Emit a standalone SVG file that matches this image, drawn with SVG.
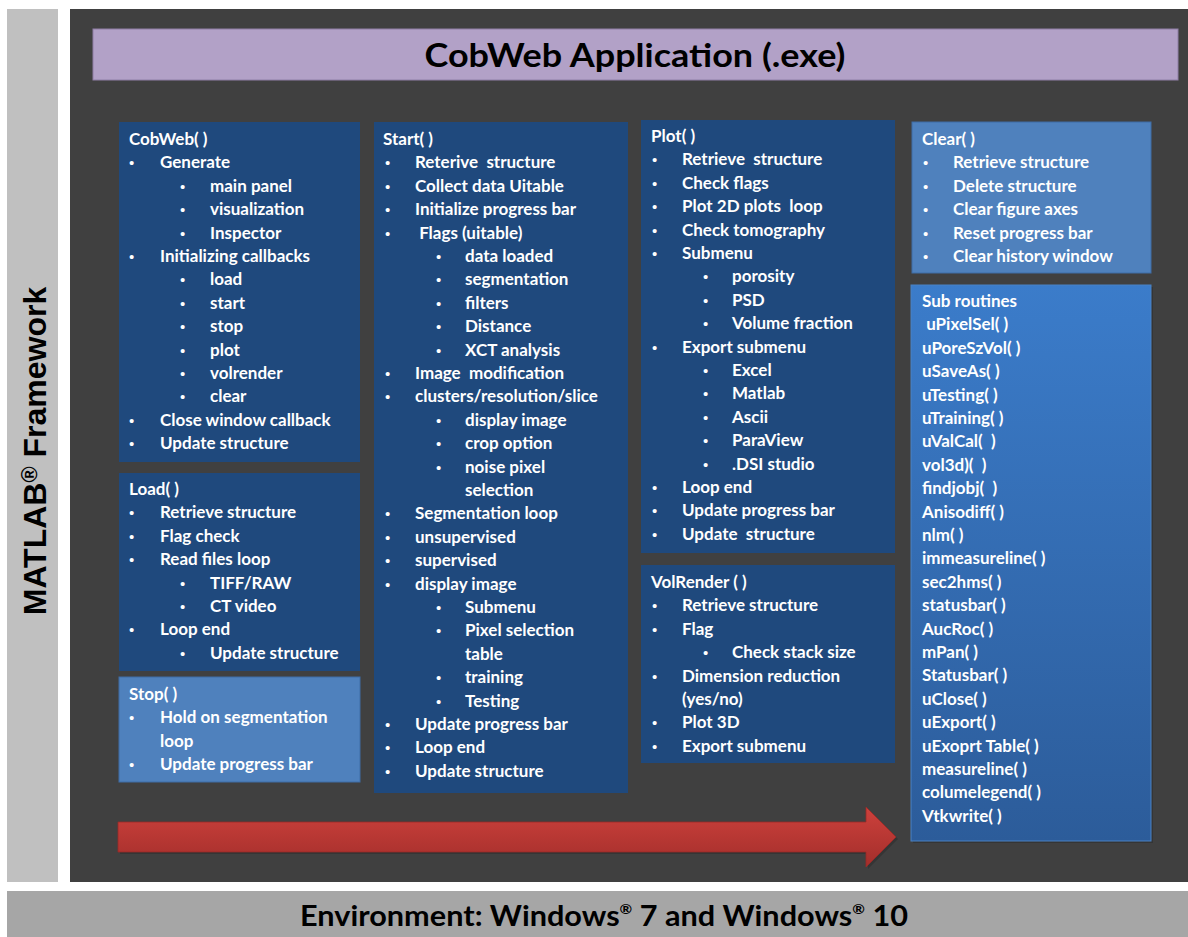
<svg xmlns="http://www.w3.org/2000/svg" width="1188" height="937" viewBox="0 0 1188 937" xml:space="preserve">
<defs>
<style>
.t{font-family:Lato,"Open Sans","Liberation Sans",sans-serif;font-weight:700;font-size:17px;fill:#ffffff;white-space:pre}
.b{font-family:"Liberation Sans",Arial,sans-serif;font-weight:400;font-size:15px;fill:#ffffff}
.dk{fill:#1f497d}
.lt{fill:#4f81bd;stroke:#3e6da6;stroke-width:1}
</style>
<linearGradient id="gSub" x1="0" y1="0" x2="0" y2="1">
<stop offset="0" stop-color="#3b7cca"/>
<stop offset="1" stop-color="#2c5c9a"/>
</linearGradient>
<linearGradient id="gArrow" x1="0" y1="0" x2="0" y2="1">
<stop offset="0" stop-color="#cd413c"/>
<stop offset="1" stop-color="#a32e2b"/>
</linearGradient>
</defs>
<rect x="0" y="0" width="1188" height="937" fill="#ffffff"/>
<g id="matlab">
<rect x="7" y="9" width="51" height="873" fill="#c0c0c0"/>
<text transform="translate(46,451) rotate(-90)" text-anchor="middle" font-family="'Liberation Sans',Arial,sans-serif" font-weight="700" font-size="32" fill="#000">MATLAB<tspan font-size="22" dy="-9">®</tspan><tspan dy="9"> Framework</tspan></text>
</g>
<rect x="70" y="9" width="1118" height="873" fill="#404040"/>
<g id="environment">
<rect x="7" y="891" width="1181" height="46" fill="#a6a6a6"/>
<text x="604" y="926" text-anchor="middle" font-family="Lato,'Liberation Sans',sans-serif" font-weight="700" font-size="28" fill="#000" textLength="608" lengthAdjust="spacingAndGlyphs">Environment: Windows<tspan font-size="14" dy="-12">®</tspan><tspan dy="12"> 7 and Windows</tspan><tspan font-size="14" dy="-12">®</tspan><tspan dy="12"> 10</tspan></text>
</g>
<g id="title">
<rect x="93" y="29" width="1085" height="51" fill="#b2a1c7" stroke="#8f7fa6" stroke-width="1"/>
<text x="635" y="67" text-anchor="middle" font-family="Lato,'Liberation Sans',sans-serif" font-weight="700" font-size="32" fill="#000" textLength="421" lengthAdjust="spacingAndGlyphs">CobWeb Application (.exe)</text>
</g>
<g id="connectors">
<path d="M120,824 H868 V809 L898,839 L868,869 V854 H120 Z" fill="#2a2a2a" opacity="0.5"/>
<path d="M118,822 H866 V807 L896,837 L866,867 V852 H118 Z" fill="url(#gArrow)" stroke="#9a2a27" stroke-width="0.8"/>
</g>
<g id="cobweb">
<rect class="dk" x="119" y="122" width="241" height="340"/>
<text class="t" x="129" y="145">CobWeb( )</text>
<text class="b" x="129" y="168.4">•</text><text class="t" x="160" y="168.4">Generate</text>
<text class="b" x="180" y="191.8">•</text><text class="t" x="210" y="191.8">main panel</text>
<text class="b" x="180" y="215.2">•</text><text class="t" x="210" y="215.2">visualization</text>
<text class="b" x="180" y="238.6">•</text><text class="t" x="210" y="238.6">Inspector</text>
<text class="b" x="129" y="262">•</text><text class="t" x="160" y="262">Initializing callbacks</text>
<text class="b" x="180" y="285.4">•</text><text class="t" x="210" y="285.4">load</text>
<text class="b" x="180" y="308.8">•</text><text class="t" x="210" y="308.8">start</text>
<text class="b" x="180" y="332.2">•</text><text class="t" x="210" y="332.2">stop</text>
<text class="b" x="180" y="355.6">•</text><text class="t" x="210" y="355.6">plot</text>
<text class="b" x="180" y="379">•</text><text class="t" x="210" y="379">volrender</text>
<text class="b" x="180" y="402.4">•</text><text class="t" x="210" y="402.4">clear</text>
<text class="b" x="129" y="425.8">•</text><text class="t" x="160" y="425.8">Close window callback</text>
<text class="b" x="129" y="449.2">•</text><text class="t" x="160" y="449.2">Update structure</text>
</g>
<g id="load">
<rect class="dk" x="119" y="473" width="241" height="198"/>
<text class="t" x="129" y="495">Load( )</text>
<text class="b" x="129" y="518.4">•</text><text class="t" x="160" y="518.4">Retrieve structure</text>
<text class="b" x="129" y="541.8">•</text><text class="t" x="160" y="541.8">Flag check</text>
<text class="b" x="129" y="565.2">•</text><text class="t" x="160" y="565.2">Read files loop</text>
<text class="b" x="180" y="588.6">•</text><text class="t" x="210" y="588.6">TIFF/RAW</text>
<text class="b" x="180" y="612">•</text><text class="t" x="210" y="612">CT video</text>
<text class="b" x="129" y="635.4">•</text><text class="t" x="160" y="635.4">Loop end</text>
<text class="b" x="180" y="658.8">•</text><text class="t" x="210" y="658.8">Update structure</text>
</g>
<g id="stop">
<rect class="lt" x="119" y="677" width="241" height="105"/>
<text class="t" x="129" y="700">Stop( )</text>
<text class="b" x="129" y="723.4">•</text><text class="t" x="160" y="723.4">Hold on segmentation</text>
<text class="t" x="160" y="746.8">loop</text>
<text class="b" x="129" y="770.2">•</text><text class="t" x="160" y="770.2">Update progress bar</text>
</g>
<g id="start">
<rect class="dk" x="374" y="122" width="254" height="671"/>
<text class="t" x="383" y="145">Start( )</text>
<text class="b" x="385" y="168.4">•</text><text class="t" x="415" y="168.4">Reterive  structure</text>
<text class="b" x="385" y="191.8">•</text><text class="t" x="415" y="191.8">Collect data Uitable</text>
<text class="b" x="385" y="215.2">•</text><text class="t" x="415" y="215.2">Initialize progress bar</text>
<text class="b" x="385" y="238.6">•</text><text class="t" x="415" y="238.6"> Flags (uitable)</text>
<text class="b" x="436" y="262">•</text><text class="t" x="465" y="262">data loaded</text>
<text class="b" x="436" y="285.4">•</text><text class="t" x="465" y="285.4">segmentation</text>
<text class="b" x="436" y="308.8">•</text><text class="t" x="465" y="308.8">filters</text>
<text class="b" x="436" y="332.2">•</text><text class="t" x="465" y="332.2">Distance</text>
<text class="b" x="436" y="355.6">•</text><text class="t" x="465" y="355.6">XCT analysis</text>
<text class="b" x="385" y="379">•</text><text class="t" x="415" y="379">Image  modification</text>
<text class="b" x="385" y="402.4">•</text><text class="t" x="415" y="402.4">clusters/resolution/slice</text>
<text class="b" x="436" y="425.8">•</text><text class="t" x="465" y="425.8">display image</text>
<text class="b" x="436" y="449.2">•</text><text class="t" x="465" y="449.2">crop option</text>
<text class="b" x="436" y="472.6">•</text><text class="t" x="465" y="472.6">noise pixel</text>
<text class="t" x="465" y="496">selection</text>
<text class="b" x="385" y="519.4">•</text><text class="t" x="415" y="519.4">Segmentation loop</text>
<text class="b" x="385" y="542.8">•</text><text class="t" x="415" y="542.8">unsupervised</text>
<text class="b" x="385" y="566.2">•</text><text class="t" x="415" y="566.2">supervised</text>
<text class="b" x="385" y="589.6">•</text><text class="t" x="415" y="589.6">display image</text>
<text class="b" x="436" y="613">•</text><text class="t" x="465" y="613">Submenu</text>
<text class="b" x="436" y="636.4">•</text><text class="t" x="465" y="636.4">Pixel selection</text>
<text class="t" x="465" y="659.8">table</text>
<text class="b" x="436" y="683.2">•</text><text class="t" x="465" y="683.2">training</text>
<text class="b" x="436" y="706.6">•</text><text class="t" x="465" y="706.6">Testing</text>
<text class="b" x="385" y="730">•</text><text class="t" x="415" y="730">Update progress bar</text>
<text class="b" x="385" y="753.4">•</text><text class="t" x="415" y="753.4">Loop end</text>
<text class="b" x="385" y="776.8">•</text><text class="t" x="415" y="776.8">Update structure</text>
</g>
<g id="plot">
<rect class="dk" x="641" y="120" width="254" height="433"/>
<text class="t" x="651" y="142">Plot( )</text>
<text class="b" x="652" y="165.4">•</text><text class="t" x="682" y="165.4">Retrieve  structure</text>
<text class="b" x="652" y="188.8">•</text><text class="t" x="682" y="188.8">Check flags</text>
<text class="b" x="652" y="212.2">•</text><text class="t" x="682" y="212.2">Plot 2D plots  loop</text>
<text class="b" x="652" y="235.6">•</text><text class="t" x="682" y="235.6">Check tomography</text>
<text class="b" x="652" y="259">•</text><text class="t" x="682" y="259">Submenu</text>
<text class="b" x="703" y="282.4">•</text><text class="t" x="732" y="282.4">porosity</text>
<text class="b" x="703" y="305.8">•</text><text class="t" x="732" y="305.8">PSD</text>
<text class="b" x="703" y="329.2">•</text><text class="t" x="732" y="329.2">Volume fraction</text>
<text class="b" x="652" y="352.6">•</text><text class="t" x="682" y="352.6">Export submenu</text>
<text class="b" x="703" y="376">•</text><text class="t" x="732" y="376">Excel</text>
<text class="b" x="703" y="399.4">•</text><text class="t" x="732" y="399.4">Matlab</text>
<text class="b" x="703" y="422.8">•</text><text class="t" x="732" y="422.8">Ascii</text>
<text class="b" x="703" y="446.2">•</text><text class="t" x="732" y="446.2">ParaView</text>
<text class="b" x="703" y="469.6">•</text><text class="t" x="732" y="469.6">.DSI studio</text>
<text class="b" x="652" y="493">•</text><text class="t" x="682" y="493">Loop end</text>
<text class="b" x="652" y="516.4">•</text><text class="t" x="682" y="516.4">Update progress bar</text>
<text class="b" x="652" y="539.8">•</text><text class="t" x="682" y="539.8">Update  structure</text>
</g>
<g id="volrender">
<rect class="dk" x="641" y="565" width="254" height="198"/>
<text class="t" x="651" y="588">VolRender ( )</text>
<text class="b" x="652" y="611.4">•</text><text class="t" x="682" y="611.4">Retrieve structure</text>
<text class="b" x="652" y="634.8">•</text><text class="t" x="682" y="634.8">Flag</text>
<text class="b" x="703" y="658.2">•</text><text class="t" x="732" y="658.2">Check stack size</text>
<text class="b" x="652" y="681.6">•</text><text class="t" x="682" y="681.6">Dimension reduction</text>
<text class="t" x="682" y="705">(yes/no)</text>
<text class="b" x="652" y="728.4">•</text><text class="t" x="682" y="728.4">Plot 3D</text>
<text class="b" x="652" y="751.8">•</text><text class="t" x="682" y="751.8">Export submenu</text>
</g>
<g id="clear">
<rect class="lt" x="912" y="122" width="239" height="151"/>
<text class="t" x="922" y="145">Clear( )</text>
<text class="b" x="923" y="168.4">•</text><text class="t" x="953" y="168.4">Retrieve structure</text>
<text class="b" x="923" y="191.8">•</text><text class="t" x="953" y="191.8">Delete structure</text>
<text class="b" x="923" y="215.2">•</text><text class="t" x="953" y="215.2">Clear figure axes</text>
<text class="b" x="923" y="238.6">•</text><text class="t" x="953" y="238.6">Reset progress bar</text>
<text class="b" x="923" y="262">•</text><text class="t" x="953" y="262">Clear history window</text>
</g>
<g id="subroutines">
<rect x="913" y="287" width="240" height="556" fill="#2a2a2a" opacity="0.5"/>
<rect x="911" y="285" width="240" height="556" fill="url(#gSub)" stroke="#4a82c4" stroke-width="1"/>
<text class="t" x="922" y="307">Sub routines</text>
<text class="t" x="922" y="330.4"> uPixelSel( )</text>
<text class="t" x="922" y="353.8">uPoreSzVol( )</text>
<text class="t" x="922" y="377.2">uSaveAs( )</text>
<text class="t" x="922" y="400.6">uTesting( )</text>
<text class="t" x="922" y="424">uTraining( )</text>
<text class="t" x="922" y="447.4">uValCal(  )</text>
<text class="t" x="922" y="470.8">vol3d)(  )</text>
<text class="t" x="922" y="494.2">findjobj(  )</text>
<text class="t" x="922" y="517.6">Anisodiff( )</text>
<text class="t" x="922" y="541">nlm( )</text>
<text class="t" x="922" y="564.4">immeasureline( )</text>
<text class="t" x="922" y="587.8">sec2hms( )</text>
<text class="t" x="922" y="611.2">statusbar( )</text>
<text class="t" x="922" y="634.6">AucRoc( )</text>
<text class="t" x="922" y="658">mPan( )</text>
<text class="t" x="922" y="681.4">Statusbar( )</text>
<text class="t" x="922" y="704.8">uClose( )</text>
<text class="t" x="922" y="728.2">uExport( )</text>
<text class="t" x="922" y="751.6">uExoprt Table( )</text>
<text class="t" x="922" y="775">measureline( )</text>
<text class="t" x="922" y="798.4">columelegend( )</text>
<text class="t" x="922" y="821.8">Vtkwrite( )</text>
</g>
</svg>
